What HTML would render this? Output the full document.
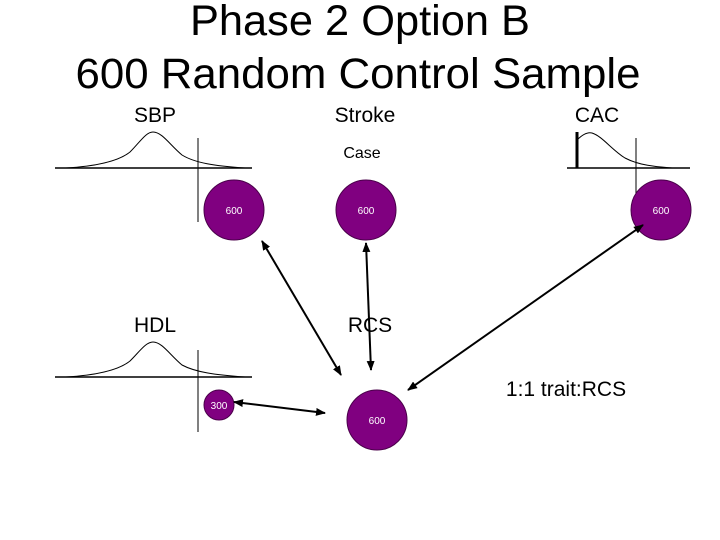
<!DOCTYPE html>
<html><head><meta charset="utf-8"><style>
body{margin:0;background:#fff;}
svg{display:block;font-family:"Liberation Sans",Arial,sans-serif;}
</style></head><body>
<svg width="720" height="540" viewBox="0 0 720 540" xmlns="http://www.w3.org/2000/svg">
<defs>
<marker id="a" markerWidth="10" markerHeight="8" refX="9" refY="4" orient="auto-start-reverse" markerUnits="userSpaceOnUse">
<path d="M0,0 L10,4 L0,8 z" fill="#000"/></marker>
</defs>
<text x="360" y="35" font-size="43" text-anchor="middle" textLength="340" lengthAdjust="spacingAndGlyphs">Phase 2 Option B</text>
<text x="358" y="88" font-size="43" text-anchor="middle" textLength="565" lengthAdjust="spacingAndGlyphs">600 Random Control Sample</text>
<text x="155" y="122" font-size="21" text-anchor="middle">SBP</text>
<text x="365" y="122" font-size="21" text-anchor="middle">Stroke</text>
<text x="597" y="122" font-size="21" text-anchor="middle">CAC</text>
<text x="362" y="158" font-size="16" text-anchor="middle">Case</text>
<text x="155" y="332" font-size="21" text-anchor="middle">HDL</text>
<text x="370" y="332" font-size="21" text-anchor="middle">RCS</text>
<text x="566" y="396" font-size="21" text-anchor="middle">1:1 trait:RCS</text>
<g fill="none" stroke="#000">
<line x1="55" y1="168" x2="252" y2="168" stroke-width="1.5"/>
<line x1="198" y1="138" x2="198" y2="222"/>
<path d="M66,168 C100,166 120,160 130,152 C140,142 146,132 153,132 C162,132 170,145 182,155 C195,163 215,166 245,168"/>
<line x1="55" y1="377" x2="252" y2="377" stroke-width="1.5"/>
<line x1="198" y1="350" x2="198" y2="432"/>
<path d="M66,377 C100,375 120,369 130,361 C140,351 146,342 153,342 C162,342 170,355 182,365 C195,372 215,375 245,377"/>
<line x1="567" y1="168" x2="690" y2="168" stroke-width="1.5"/>
<line x1="577" y1="132" x2="577" y2="168" stroke-width="3"/>
<line x1="636" y1="138" x2="636" y2="222"/>
<path d="M577,140 C583,134 588,132 592,133 C602,136 612,150 625,158 C640,166 660,167 672,168"/>
</g>
<g fill="#800080" stroke="#4a004a">
<circle cx="234" cy="210" r="30"/>
<circle cx="366" cy="210" r="30"/>
<circle cx="661" cy="210" r="30"/>
<circle cx="219" cy="405" r="15"/>
<circle cx="377" cy="420" r="30"/>
</g>
<g fill="#fff" font-size="10" text-anchor="middle">
<text x="234" y="214">600</text><text x="366" y="214">600</text><text x="661" y="214">600</text>
<text x="219" y="409">300</text><text x="377" y="424">600</text>
</g>
<g stroke="#000" stroke-width="2" marker-start="url(#a)" marker-end="url(#a)">
<line x1="262" y1="241" x2="341" y2="375"/>
<line x1="366" y1="243" x2="371" y2="370"/>
<line x1="643" y1="225" x2="408" y2="390"/>
<line x1="234" y1="402" x2="325" y2="413"/>
</g>
</svg>
</body></html>
